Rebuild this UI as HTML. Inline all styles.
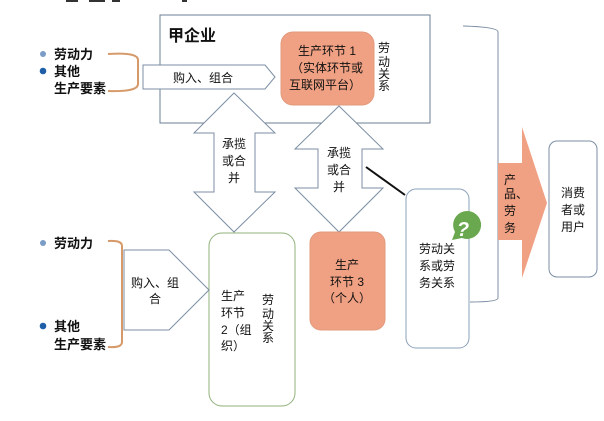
<!DOCTYPE html>
<html><head><meta charset="utf-8"><style>
html,body{margin:0;padding:0;background:#fff;}
svg{display:block;}
text{font-family:"Liberation Sans","Noto Sans CJK SC",sans-serif;fill:#111;}
.b{font-weight:bold;font-size:13px;}
.n{font-size:12px;}
</style></head><body>
<svg width="604" height="421" viewBox="0 0 604 421" xmlns="http://www.w3.org/2000/svg">
<rect width="604" height="421" fill="#fff"/>
<rect x="66" y="0" width="12" height="2" fill="#333"/><rect x="89" y="0" width="16" height="2" fill="#333"/><rect x="112" y="0" width="8" height="2" fill="#333"/><rect x="182" y="0" width="5" height="2" fill="#333"/>
<rect x="160" y="15" width="270" height="108" fill="#fff" stroke="#6b7f93" stroke-width="1"/>
<text x="168" y="41" style="font-weight:bold;font-size:16px">甲企业</text>
<circle cx="43" cy="54" r="3" fill="#7a9cc6"/>
<circle cx="43" cy="71" r="3.3" fill="#1f5fa8"/>
<text class="b" x="54" y="59">劳动力</text>
<text class="b" x="54" y="76">其他</text>
<text class="b" x="54" y="93">生产要素</text>
<path d="M108,54 Q138,52 138,60 L138,84 Q138,92 108,91" fill="none" stroke="#d69a6a" stroke-width="2"/>
<polygon points="143,65 265,65 275,77 265,89 143,89" fill="#fff" stroke="#7b8ea3"/>
<text class="n" x="173" y="82">购入、组合</text>
<rect x="281" y="32" width="93" height="73" rx="12" fill="#f1a183" stroke="#e29a7c"/>
<text class="n" text-anchor="middle" x="327" y="55">生产环节 1</text>
<text class="n" text-anchor="middle" x="327" y="72">（实体环节或</text>
<text class="n" text-anchor="middle" x="325" y="89">互联网平台）</text>
<text class="n" x="378" y="52">劳</text><text class="n" x="378" y="66">动</text><text class="n" x="378" y="78">关</text><text class="n" x="378" y="90">系</text>
<polygon points="234,93 275,133 255,133 255,192 275,192 234,232 194,192 214,192 214,133 194,133" fill="#fff" stroke="#7b8ea3"/>
<text class="n" text-anchor="middle" x="234" y="148">承揽</text>
<text class="n" text-anchor="middle" x="234" y="165">或合</text>
<text class="n" text-anchor="middle" x="234" y="182">并</text>
<polygon points="339,106 383,149 362,149 362,188 383,188 339,232 295,188 318,188 318,149 295,149" fill="#fff" stroke="#7b8ea3"/>
<text class="n" text-anchor="middle" x="339" y="157">承揽</text>
<text class="n" text-anchor="middle" x="339" y="174">或合</text>
<text class="n" text-anchor="middle" x="339" y="191">并</text>
<line x1="366" y1="167" x2="405" y2="195" stroke="#111" stroke-width="2"/>
<path d="M463,26 Q498,27 498,32 L498,298 Q498,302 470,302" fill="none" stroke="#7b8ea3"/>
<rect x="406" y="189" width="63" height="159" rx="10" fill="#fff" stroke="#8aa0b8"/>
<text class="n" x="419" y="253">劳动关</text>
<text class="n" x="419" y="270">系或劳</text>
<text class="n" x="419" y="287">务关系</text>
<path d="M452,240 L455,232 A14,14 0 1 1 462,238 Z" fill="#6aa84f"/>
<text x="463" y="236" text-anchor="middle" style="fill:#fff;font-weight:bold;font-size:20px;font-style:italic">?</text>
<polygon points="498,163 522,163 522,127 547,203 522,278 522,240 498,240" fill="#f1a183"/>
<text class="n" x="504" y="184">产</text><text class="n" x="504" y="198">品、</text><text class="n" x="504" y="215">劳</text><text class="n" x="504" y="232">务</text>
<rect x="549" y="141" width="48" height="136" rx="8" fill="#fff" stroke="#7b8ea3"/>
<text class="n" text-anchor="middle" x="573" y="197">消费</text>
<text class="n" text-anchor="middle" x="573" y="214">者或</text>
<text class="n" text-anchor="middle" x="573" y="231">用户</text>
<rect x="310" y="232" width="75" height="98" rx="11" fill="#f1a183" stroke="#e29a7c"/>
<text class="n" text-anchor="middle" x="347" y="269">生产</text>
<text class="n" text-anchor="middle" x="347" y="286">环节 3</text>
<text class="n" text-anchor="middle" x="347" y="302">（个人）</text>
<rect x="209" y="233" width="86" height="173" rx="13" fill="#fff" stroke="#8fb07a"/>
<text class="n" x="221" y="300">生产</text>
<text class="n" x="221" y="317">环节</text>
<text class="n" x="221" y="334">2（组</text>
<text class="n" x="221" y="350">织）</text>
<text class="n" x="262" y="304">劳</text><text class="n" x="262" y="318">动</text><text class="n" x="262" y="330">关</text><text class="n" x="262" y="342">系</text>
<circle cx="43" cy="243" r="3" fill="#7a9cc6"/>
<circle cx="43" cy="326" r="3.3" fill="#1f5fa8"/>
<text class="b" x="54" y="248">劳动力</text>
<text class="b" x="54" y="331">其他</text>
<text class="b" x="54" y="349">生产要素</text>
<path d="M108,241 Q122,240 122,246 L122,342 Q122,348 108,347" fill="none" stroke="#d69a6a" stroke-width="2"/>
<polygon points="124,250 169,250 209,290 169,330 124,330" fill="#fff" stroke="#7b8ea3"/>
<text class="n" x="131" y="287">购入、组</text>
<text class="n" x="149" y="303">合</text>
</svg>
</body></html>
